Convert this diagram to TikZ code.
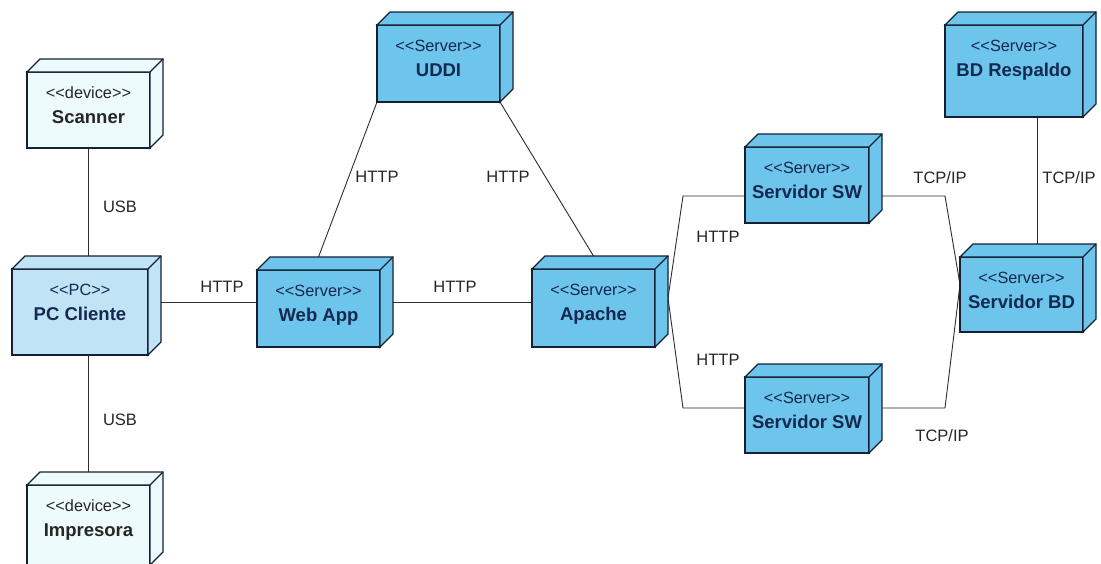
\documentclass[tikz,border=0pt]{standalone}
\usepackage{fontspec}
\setmainfont{Liberation Sans}
\usetikzlibrary{calc,backgrounds}

\definecolor{srvblue}{RGB}{110,197,236}
\definecolor{pcblue}{RGB}{192,228,246}
\definecolor{devcyan}{RGB}{238,251,253}
\definecolor{boxline}{RGB}{22,32,52}
\definecolor{srvtext}{RGB}{20,40,80}
\definecolor{linkgray}{RGB}{45,45,45}

\tikzset{
  NodeBox/.style={draw=boxline, line width=1.1pt, rectangle, inner sep=0pt, outer sep=0pt},
  Server/.style={NodeBox, fill=srvblue, text=srvtext},
  PC/.style={NodeBox, fill=pcblue, text=srvtext},
  Device/.style={NodeBox, fill=devcyan, text=black!85},
  Link/.style={draw=linkgray, line width=0.9pt},
  LinkLabel/.style={font=\fontsize{16.5}{19}\selectfont, text=black!85}
}

\newcommand{\stereo}[1]{\mbox{<}\mbox{<}#1\mbox{>}\mbox{>}}
\newcommand{\StereoFont}{\fontsize{16.3}{19}\selectfont}
\newcommand{\NameFont}{\fontsize{18.5}{21}\selectfont\bfseries}

% 3D node: style, name, x, y, width, height, stereotype, title
\newcommand{\Deploy}[8]{%
  \pgfmathsetmacro{\boxdp}{#6-26.5}%
  \node[#1, minimum width=#5pt, text height=26.5pt, text depth=\boxdp pt] (#2) at (#3,#4)
    {\makebox[0pt]{\StereoFont\stereo{#7}}\raisebox{-24.9pt}[0pt][0pt]{\makebox[0pt]{\NameFont #8}}};
  \filldraw[#1] (#2.north west) -- ++(13,-13) -- ++(#5,0) -- ++(0,#6) -- (#2.south east) -- (#2.north east) -- cycle;
  \draw[#1, fill=none] (#2.north east) -- ++(13,-13);
}

\begin{document}
\begin{tikzpicture}[x=1pt, y=-1pt]
   \useasboundingbox (0,0) rectangle (1101,563);

   \Deploy{Device}{scanner}{88.5}{110}{123}{76}{device}{Scanner}
   \Deploy{PC}{pc}{80}{312}{136}{86}{PC}{PC Cliente}
   \Deploy{Device}{impresora}{88.5}{525}{123}{80}{device}{Impresora}

   \Deploy{Server}{uddi}{438.5}{63.5}{123}{77}{Server}{UDDI}
   \Deploy{Server}{webapp}{318.5}{308.5}{123}{77}{Server}{Web App}
   \Deploy{Server}{apache}{593.5}{308}{123}{78}{Server}{Apache}

   \Deploy{Server}{swa}{807}{185}{124}{76}{Server}{Servidor SW}
   \Deploy{Server}{swb}{807}{415}{124}{76}{Server}{Servidor SW}
   \Deploy{Server}{respaldo}{1014}{71}{138}{92}{Server}{BD Respaldo}
   \Deploy{Server}{bd}{1021.5}{294.5}{123}{75}{Server}{Servidor BD}

   \begin{pgfonlayer}{background}
   \fill[white] (0,0) rectangle (1101,563);
   % client side
   \draw[Link] (scanner) -- (scanner |- pc);
   \draw[Link] (impresora) -- (impresora |- pc);
   \draw[Link] ($(webapp.west)+(0,-6.5)$) coordinate (wa) -- (wa -| pc.center);
   \draw[Link] (wa) -- (wa -| apache.center);
   \draw[Link] (uddi.south west) -- ($(webapp.north)+(0,-13)$);
   \draw[Link] (uddi.south east) -- ($(apache.north)+(0,-13)$);
   % apache to the web services
   \draw[Link] ($(apache.east)+(13,-10)$) coordinate (ap)
      -- ($(swa.west)+(-62,11)$) -- ($(swa.west)+(0,11)$);
   \draw[Link] (ap) -- ($(swb.west)+(-62,-7)$) -- ($(swb.west)+(0,-7)$);
   % database
   \draw[Link] ($(bd.west)+(0,-10)$) coordinate (bdp)
      -- ($(swa.east)+(76,11)$) -- ($(swa.east)+(0,11)$);
   \draw[Link] (bdp) -- ($(swb.east)+(76,-7)$) -- ($(swb.east)+(0,-7)$);
   \draw[Link] ($(bd.north)+(15.5,0)$) coordinate (bu) -- (bu |- respaldo.south);
   \end{pgfonlayer}

   \node[LinkLabel] (usbtop) at (120,207) {USB};
   \node[LinkLabel] (usbbot) at (120,420) {USB};
   \node[LinkLabel] (httpa) at (222,287) {HTTP};
   \node[LinkLabel] (httpb) at (455,287) {HTTP};
   \node[LinkLabel] (httpc) at (377,177) {HTTP};
   \node[LinkLabel] (httpd) at (508,177) {HTTP};
   \node[LinkLabel] (httpe) at (718,237) {HTTP};
   \node[LinkLabel] (httpf) at (718,360) {HTTP};
   \node[LinkLabel] (tcpa) at (940,178) {TCP/IP};
   \node[LinkLabel] (tcpb) at (942,436) {TCP/IP};
   \node[LinkLabel] (tcpc) at (1069,178) {TCP/IP};
\end{tikzpicture}
\end{document}
